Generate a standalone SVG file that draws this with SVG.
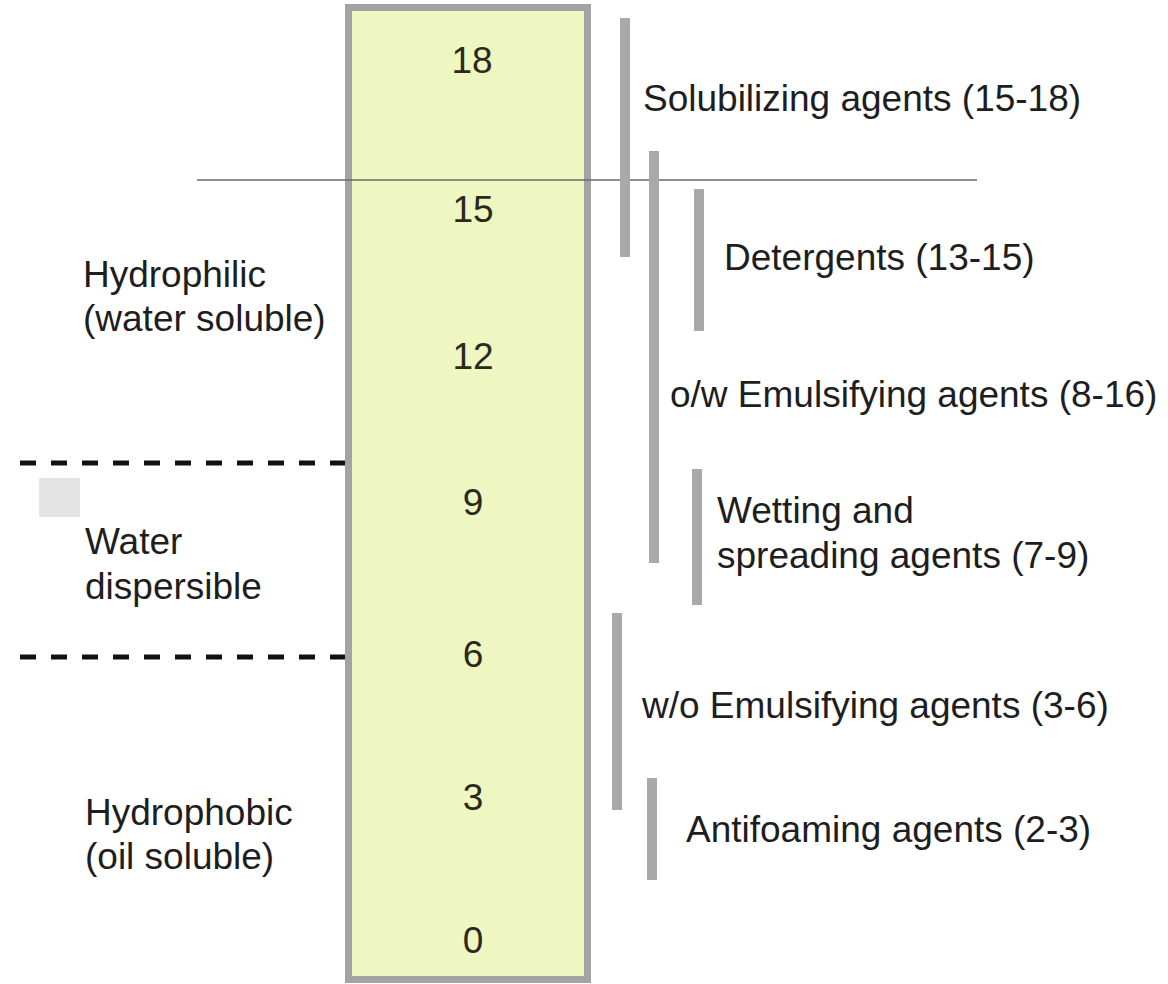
<svg xmlns="http://www.w3.org/2000/svg" width="1168" height="984" viewBox="0 0 1168 984">
  <style>
    .t { font-family: "Liberation Sans", Arial, sans-serif; font-size: 37px; fill: #1e1e1e; }
    .n { font-family: "Liberation Sans", Arial, sans-serif; font-size: 37px; fill: #2a2a1a; text-anchor: middle; }
    .bar { stroke: #a9a9a9; stroke-width: 10; fill: none; }
    .dash { stroke: #111; stroke-width: 5; stroke-dasharray: 16 15; fill: none; }
  </style>
  <rect width="1168" height="984" fill="#ffffff"/>
  <g id="watermark">
    <rect x="39" y="478" width="41" height="39" fill="#e4e4e4"/>
  </g>
  <g id="scale">
    <rect x="348.5" y="7.5" width="239" height="972" fill="#eef7c1" stroke="#a3a3a3" stroke-width="7"/>
    <text class="n" x="472" y="73">18</text>
    <text class="n" x="473" y="222">15</text>
    <text class="n" x="473" y="369">12</text>
    <text class="n" x="473" y="515">9</text>
    <text class="n" x="473" y="667">6</text>
    <text class="n" x="473" y="810">3</text>
    <text class="n" x="473" y="953">0</text>
  </g>
  <g id="connectors">
    <line x1="197" y1="180" x2="977" y2="180" stroke="#6a6a6a" stroke-width="1.5"/>
    <line class="dash" x1="20" y1="463" x2="345" y2="463"/>
    <line class="dash" x1="20" y1="657" x2="345" y2="657"/>
  </g>
  <g id="zone-hydrophilic">
    <text class="t" x="83" y="287">Hydrophilic</text>
    <text class="t" x="83" y="331">(water soluble)</text>
  </g>
  <g id="zone-dispersible">
    <text class="t" x="85" y="554">Water</text>
    <text class="t" x="85" y="599">dispersible</text>
  </g>
  <g id="zone-hydrophobic">
    <text class="t" x="85" y="825">Hydrophobic</text>
    <text class="t" x="85" y="869">(oil soluble)</text>
  </g>
  <g id="solubilizing">
    <line class="bar" x1="625" y1="18" x2="625" y2="257"/>
    <text class="t" x="643" y="111">Solubilizing agents (15-18)</text>
  </g>
  <g id="ow-emulsifying">
    <line class="bar" x1="654" y1="151" x2="654" y2="563"/>
    <text class="t" x="670" y="407">o/w Emulsifying agents (8-16)</text>
  </g>
  <g id="detergents">
    <line class="bar" x1="699" y1="189" x2="699" y2="331"/>
    <text class="t" x="724" y="270">Detergents (13-15)</text>
  </g>
  <g id="wetting">
    <line class="bar" x1="697" y1="469" x2="697" y2="605"/>
    <text class="t" x="717" y="523">Wetting and</text>
    <text class="t" x="717" y="568">spreading agents (7-9)</text>
  </g>
  <g id="wo-emulsifying">
    <line class="bar" x1="617" y1="613" x2="617" y2="810"/>
    <text class="t" x="642" y="718">w/o Emulsifying agents (3-6)</text>
  </g>
  <g id="antifoaming">
    <line class="bar" x1="652" y1="778" x2="652" y2="880"/>
    <text class="t" x="686" y="842">Antifoaming agents (2-3)</text>
  </g>
</svg>
